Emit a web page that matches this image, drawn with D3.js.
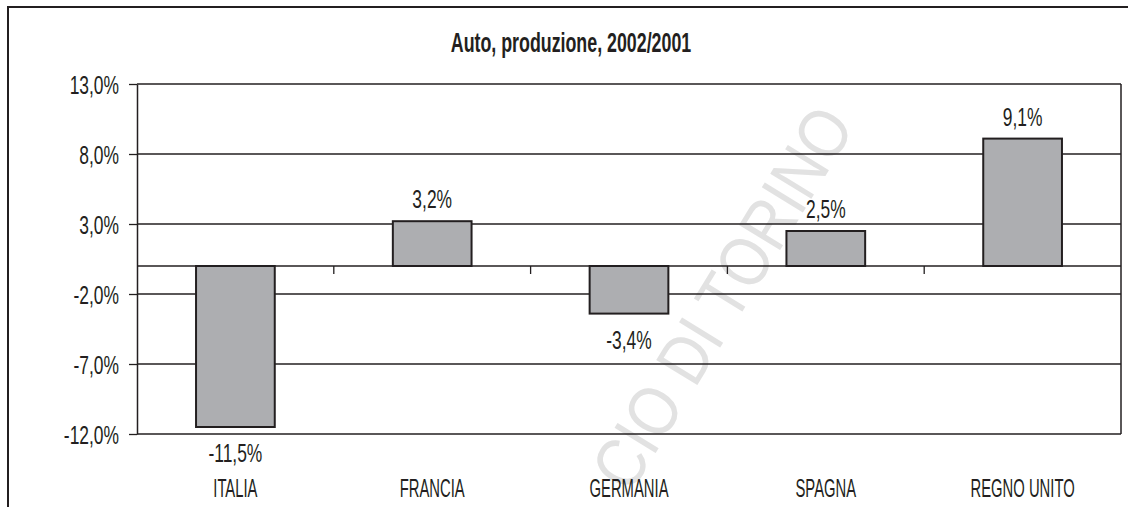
<!DOCTYPE html>
<html>
<head>
<meta charset="utf-8">
<script src="https://cdn.jsdelivr.net/npm/d3@7"></script>
<style>
  html, body { margin: 0; padding: 0; background: #fff; }
  svg { display: block; }
  text { font-family: "Liberation Sans", Arial, sans-serif; fill: #231f20; }
</style>
</head>
<body>
<svg id="chart" width="1128" height="507"></svg>
<script>
const title = "Auto, produzione, 2002/2001";
const categories = ["ITALIA", "FRANCIA", "GERMANIA", "SPAGNA", "REGNO UNITO"];
const values = [-11.5, 3.2, -3.4, 2.5, 9.1];
const yTicks = [13, 8, 3, -2, -7, -12];
const watermark = "CIO DI TORINO";

const W = 1128, H = 507;
const plot = { left: 137, right: 1121, top: 84, bottom: 434 };
const ink = "#231f20";

const svg = d3.select("#chart");
svg.append("rect").attr("width", W).attr("height", H).attr("fill", "#fff");

const fmt = v => v.toFixed(1).replace(".", ",") + "%";

const x = d3.scaleBand().domain(categories).range([plot.left, plot.right]).padding(0);
const y = d3.scaleLinear().domain([d3.min(yTicks), d3.max(yTicks)]).range([plot.bottom, plot.top]);

// watermark (behind everything)
svg.append("text")
  .attr("transform", "translate(856,126) rotate(-58.5) scale(0.86,1)")
  .attr("text-anchor", "end")
  .style("font-size", "70px")
  .style("fill", "#e2e2e2")
  .text(watermark);

// outer frame
svg.append("path")
  .attr("d", `M8,${H + 5} L8,7 L${W + 5},7`)
  .attr("fill", "none").attr("stroke", ink).attr("stroke-width", 2);

// title
svg.append("text")
  .attr("transform", "translate(571,52) scale(0.66,1)")
  .attr("text-anchor", "middle")
  .style("font-size", "27px")
  .style("font-weight", "bold")
  .text(title);

// gridlines
svg.append("g").selectAll("line").data(yTicks).join("line")
  .attr("x1", plot.left).attr("x2", plot.right)
  .attr("y1", d => y(d)).attr("y2", d => y(d))
  .attr("stroke", ink).attr("stroke-width", 1.3);

// plot area right border
svg.append("line")
  .attr("x1", plot.right).attr("x2", plot.right)
  .attr("y1", y(d3.max(yTicks))).attr("y2", y(d3.min(yTicks)))
  .attr("stroke", ink).attr("stroke-width", 1.5);

// y axis
const yAxis = svg.append("g")
  .attr("transform", `translate(${plot.left},0)`)
  .call(d3.axisLeft(y).tickValues(yTicks).tickFormat(fmt).tickSize(8).tickSizeOuter(0));
yAxis.attr("font-family", null).attr("font-size", null);
yAxis.select(".domain").attr("stroke", ink).attr("stroke-width", 1.5);
yAxis.selectAll(".tick line").attr("stroke", ink).attr("stroke-width", 1.3);
yAxis.selectAll(".tick text")
  .attr("x", null).attr("dy", null)
  .attr("transform", "translate(-18,9.5) scale(0.67,1)")
  .attr("text-anchor", "end")
  .style("font-size", "26px")
  .attr("fill", ink);

// bars
const barW = x.bandwidth() * 0.4;
svg.append("g").selectAll("rect").data(values).join("rect")
  .attr("x", (d, i) => x(categories[i]) + (x.bandwidth() - barW) / 2)
  .attr("width", barW)
  .attr("y", d => y(Math.max(0, d)))
  .attr("height", d => Math.abs(y(d) - y(0)))
  .attr("fill", "#adaeb1")
  .attr("stroke", ink).attr("stroke-width", 2);

// category axis at zero with ticks between categories
svg.append("line")
  .attr("x1", plot.left).attr("x2", plot.right)
  .attr("y1", y(0)).attr("y2", y(0))
  .attr("stroke", ink).attr("stroke-width", 1.3);
svg.append("g").selectAll("line").data(categories.slice(1)).join("line")
  .attr("x1", d => x(d)).attr("x2", d => x(d))
  .attr("y1", y(0)).attr("y2", y(0) + 8)
  .attr("stroke", ink).attr("stroke-width", 1.3);

// value labels
svg.append("g").selectAll("text").data(values).join("text")
  .attr("transform", (d, i) => {
    const cx = x(categories[i]) + x.bandwidth() / 2;
    const by = d >= 0 ? y(d) - 13 : y(d) + 35;
    return `translate(${cx},${by}) scale(0.67,1)`;
  })
  .attr("text-anchor", "middle")
  .style("font-size", "26px")
  .text(d => fmt(d));

// category labels
svg.append("g").selectAll("text").data(categories).join("text")
  .attr("transform", d => `translate(${x(d) + x.bandwidth() / 2},497) scale(0.57,1)`)
  .attr("text-anchor", "middle")
  .style("font-size", "26px")
  .text(d => d);
</script>
</body>
</html>
